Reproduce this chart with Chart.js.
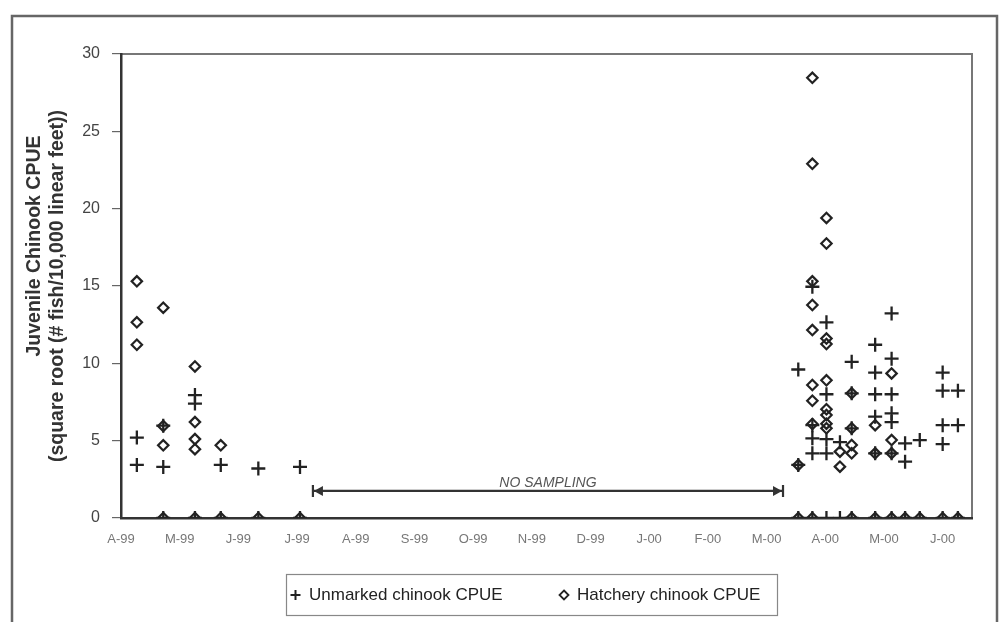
<!DOCTYPE html>
<html><head><meta charset="utf-8">
<script src="https://cdn.jsdelivr.net/npm/chart.js@4/dist/chart.umd.min.js"></script>
<style>html,body{margin:0;padding:0;background:#fff;}#wrap{width:1002px;height:622px;}</style>
</head><body><div id="wrap"><canvas id="c" width="1002" height="622"></canvas></div>
<script>
// Month tick labels (one per month, starting April 1999)
const monthLabels = ['A-99','M-99','J-99','J-99','A-99','S-99','O-99','N-99','D-99','J-00','F-00','M-00','A-00','M-00','J-00'];

// Unmarked chinook: sampling time (months since 1 Apr 1999) and CPUE
const unmarkedMonth = [
  0.27,0.27, 0.72,0.72,0.72, 1.26,1.26,1.26, 1.70,1.70, 2.34,2.34, 3.05,3.05,
  11.54,11.54,11.54,
  11.78,11.78,11.78,11.78,11.78,
  12.02,12.02,12.02,12.02,12.02,
  12.25,12.25,
  12.45,12.45,12.45,12.45,
  12.85,12.85,12.85,12.85,12.85,12.85,
  13.13,13.13,13.13,13.13,13.13,13.13,13.13,
  13.36,13.36,13.36,
  13.61,13.61,
  14.0,14.0,14.0,14.0,14.0,
  14.26,14.26,14.26
];
const unmarkedCPUE = [
  5.2,3.43, 5.97,3.3,0, 7.95,7.4,0, 3.43,0, 3.2,0, 3.3,0,
  9.6,3.43,0,
  14.95,6.0,5.15,4.18,0,
  12.65,8.0,5.1,4.18,0,
  4.9,0,
  10.1,8.06,5.8,0,
  11.2,9.4,8.0,6.55,4.18,0,
  13.23,10.3,8.0,6.77,6.2,4.18,0,
  4.83,3.64,0,
  5.04,0,
  9.4,8.23,6.0,4.78,0,
  8.23,6.0,0
];

// Hatchery chinook: sampling time and CPUE
const hatcheryMonth = [
  0.27,0.27,0.27, 0.72,0.72,0.72,0.72, 1.26,1.26,1.26,1.26,1.26, 1.70,1.70, 2.34, 3.05,
  11.54,11.54,
  11.78,11.78,11.78,11.78,11.78,11.78,11.78,11.78,11.78,
  12.02,12.02,12.02,12.02,12.02,12.02,12.02,12.02,12.02,
  12.25,12.25,
  12.45,12.45,12.45,12.45,12.45,
  12.85,12.85,12.85,
  13.13,13.13,13.13,13.13,
  13.36, 13.61, 14.0, 14.26
];
const hatcheryCPUE = [
  15.3,12.65,11.2, 13.6,5.95,4.7,0, 9.8,6.2,5.1,4.45,0, 4.7,0, 0, 0,
  3.43,0,
  28.46,22.9,15.3,13.77,12.15,8.6,7.58,6.08,0,
  19.4,17.75,11.6,11.25,8.9,7.03,6.66,6.1,5.8,
  4.29,3.32,
  8.06,5.8,4.72,4.18,0,
  6.0,4.18,0,
  9.35,5.04,4.18,0,
  0, 0, 0, 0
];

// "No sampling" gap annotation (months) and its level on the CPUE axis
const noSamplingFrom = 3.27, noSamplingTo = 11.28, noSamplingLevel = 1.75;
const noSamplingText = 'NO SAMPLING';
const yTitleLines = ['Juvenile Chinook CPUE', '(square root (# fish/10,000 linear feet))'];

const FONT = "'Liberation Sans', Arial, Helvetica, sans-serif";
const INK = '#222';

function toPoints(xs, ys){ return xs.map((x,i)=>({x:x, y:ys[i]})); }

const framePlugin = {
  id:'frame',
  beforeDraw(chart){
    const ctx = chart.ctx, a = chart.chartArea;
    ctx.save();
    ctx.fillStyle = '#fff';
    ctx.fillRect(0,0,chart.width,chart.height);
    ctx.strokeStyle = '#666'; ctx.lineWidth = 2.5;
    ctx.strokeRect(12, 16, 985, 620);
    ctx.strokeStyle = '#777'; ctx.lineWidth = 2;
    ctx.beginPath();
    ctx.moveTo(a.left, a.top); ctx.lineTo(a.right, a.top); ctx.lineTo(a.right, a.bottom);
    ctx.stroke();
    ctx.restore();
  },
  afterDraw(chart){
    const ctx = chart.ctx, a = chart.chartArea;
    ctx.save();
    // y-axis title (two lines, rotated)
    ctx.fillStyle = '#333';
    ctx.font = 'bold 19.5px ' + FONT;
    ctx.textAlign = 'center'; ctx.textBaseline = 'middle';
    ctx.save(); ctx.translate(35, 246); ctx.rotate(-Math.PI/2); ctx.fillText(yTitleLines[0], 0, 0); ctx.restore();
    ctx.save(); ctx.translate(58, 286); ctx.rotate(-Math.PI/2); ctx.fillText(yTitleLines[1], 0, 0); ctx.restore();

    // no sampling annotation
    const xs = chart.scales.x, ys = chart.scales.y;
    const x1 = xs.getPixelForValue(noSamplingFrom), x2 = xs.getPixelForValue(noSamplingTo);
    const y = ys.getPixelForValue(noSamplingLevel);
    ctx.strokeStyle = '#333'; ctx.fillStyle = '#333'; ctx.lineWidth = 2.2;
    ctx.beginPath(); ctx.moveTo(x1, y); ctx.lineTo(x2, y); ctx.stroke();
    ctx.beginPath(); ctx.moveTo(x1, y-6); ctx.lineTo(x1, y+6); ctx.moveTo(x2, y-6); ctx.lineTo(x2, y+6); ctx.stroke();
    ctx.beginPath(); ctx.moveTo(x1+1, y); ctx.lineTo(x1+10, y-5); ctx.lineTo(x1+10, y+5); ctx.closePath(); ctx.fill();
    ctx.beginPath(); ctx.moveTo(x2-1, y); ctx.lineTo(x2-10, y-5); ctx.lineTo(x2-10, y+5); ctx.closePath(); ctx.fill();
    ctx.fillStyle = '#555';
    ctx.font = 'italic 14px ' + FONT;
    ctx.textAlign = 'center'; ctx.textBaseline = 'alphabetic';
    ctx.fillText(noSamplingText, (x1+x2)/2, y - 4);

    // legend
    ctx.strokeStyle = '#888'; ctx.lineWidth = 1.2;
    ctx.strokeRect(286.5, 574.5, 491, 41);
    const ly = 595;
    const ds = chart.data.datasets;
    ctx.font = '17px ' + FONT; ctx.textAlign = 'left'; ctx.textBaseline = 'middle';
    // plus
    ctx.strokeStyle = INK; ctx.lineWidth = 2;
    ctx.beginPath(); ctx.moveTo(290.5, ly); ctx.lineTo(300.5, ly); ctx.moveTo(295.5, ly-5); ctx.lineTo(295.5, ly+5); ctx.stroke();
    ctx.fillStyle = INK; ctx.fillText(ds[0].label, 309, ly);
    // diamond
    ctx.lineWidth = 1.8;
    ctx.beginPath(); ctx.moveTo(564, ly-4.5); ctx.lineTo(568.5, ly); ctx.lineTo(564, ly+4.5); ctx.lineTo(559.5, ly); ctx.closePath(); ctx.stroke();
    ctx.fillText(ds[1].label, 577, ly);
    ctx.restore();
  }
};

new Chart(document.getElementById('c'), {
  type:'scatter',
  data:{ datasets:[
    { label:'Unmarked chinook CPUE', data: toPoints(unmarkedMonth, unmarkedCPUE),
      pointStyle:'cross', radius:7, borderColor:INK, borderWidth:2.3, backgroundColor:INK, order:1 },
    { label:'Hatchery chinook CPUE', data: toPoints(hatcheryMonth, hatcheryCPUE),
      pointStyle:'rectRot', radius:5.2, borderColor:INK, borderWidth:2.2, backgroundColor:'rgba(0,0,0,0)', order:2 }
  ]},
  options:{
    responsive:false, animation:false, devicePixelRatio:1,
    layout:{ padding:{ left:14, top:54, right:30, bottom:0 } },
    plugins:{ legend:{display:false}, tooltip:{enabled:false} },
    scales:{
      x:{ type:'linear', min:0, max:14.5,
        afterBuildTicks:(s)=>{ s.ticks = monthLabels.map((_,i)=>({value:i})); },
        afterFit:(s)=>{ s.height = 104; },
        grid:{ display:false, drawTicks:false },
        border:{ display:true, color:'#333', width:2.5 },
        ticks:{ autoSkip:false, maxRotation:0, minRotation:0, padding:14, color:'#777',
          font:{ family:FONT, size:13 }, callback:(v)=>monthLabels[v] }
      },
      y:{ min:0, max:30,
        afterFit:(s)=>{ s.width = 107; },
        grid:{ drawOnChartArea:false, tickLength:9, color:'#666', lineWidth:1.2 },
        border:{ display:true, color:'#333', width:2.5 },
        ticks:{ stepSize:5, padding:12, color:'#444', font:{ family:FONT, size:16 } }
      }
    }
  },
  plugins:[framePlugin]
});
</script>
</body></html>
